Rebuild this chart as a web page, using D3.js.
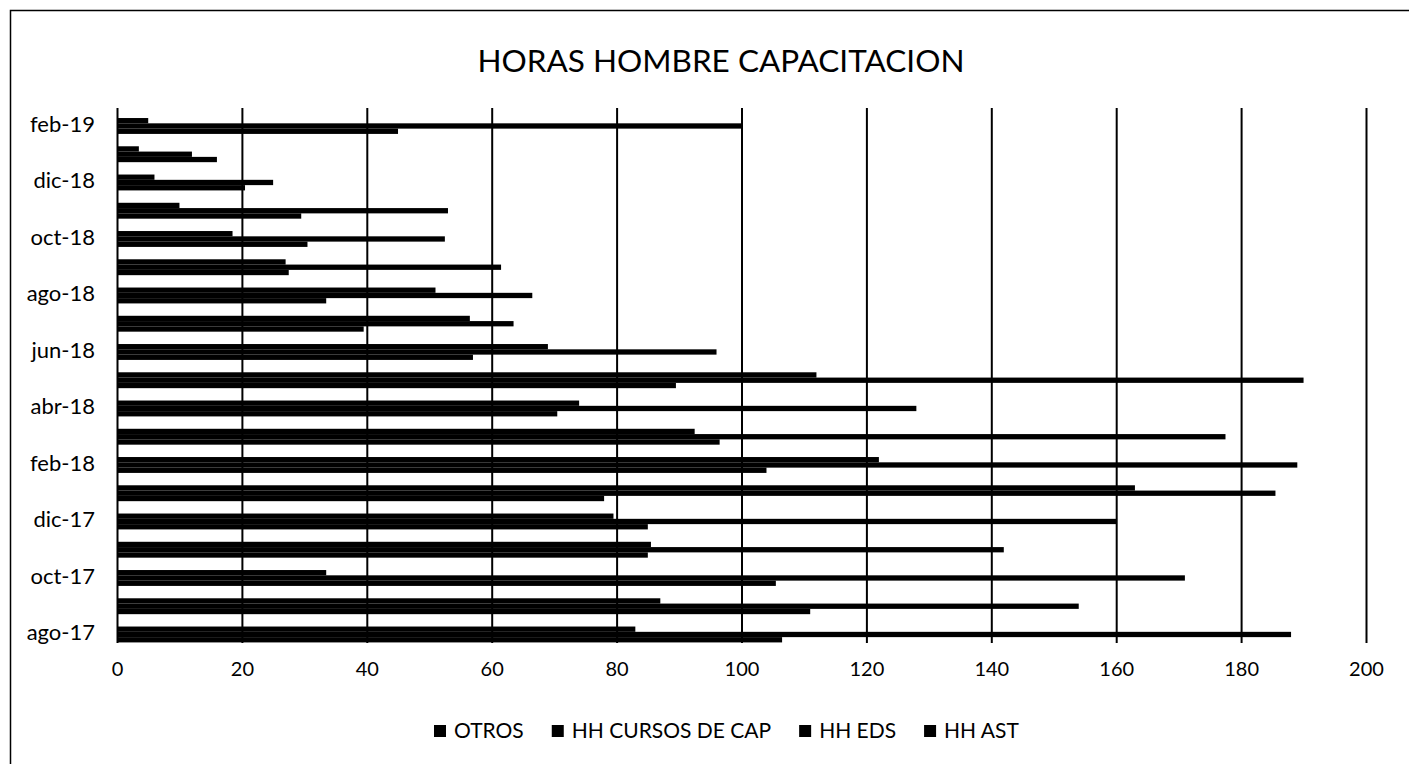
<!DOCTYPE html>
<html>
<head>
<meta charset="utf-8">
<script src="https://cdn.jsdelivr.net/npm/d3@7"></script>
<style>
    body { margin: 0; background: #fff; }
    #vis { width: 1409px; height: 764px; }
    text { font-family: Lato, "Open Sans", sans-serif; fill: #000; }
</style>
</head>
<body>
<div id="vis"></div>
<script>
// months, oldest first (drawn bottom to top like Excel)
var months = ['ago-17', 'sep-17', 'oct-17', 'nov-17', 'dic-17', 'ene-18', 'feb-18', 'mar-18', 'abr-18',
    'may-18', 'jun-18', 'jul-18', 'ago-18', 'sep-18', 'oct-18', 'nov-18', 'dic-18', 'ene-19', 'feb-19'];

var otros = [0, 0, 0, 0, 0, 0, 0, 0, 0, 0, 0, 0, 0, 0, 0, 0, 0, 0, 0];
var hh_cursos = [106.5, 111, 105.5, 85, 85, 78, 104, 96.5, 70.5, 89.5, 57, 39.5, 33.5, 27.5, 30.5, 29.5, 20.5, 16, 45];
var hh_eds = [188, 154, 171, 142, 160, 185.5, 189, 177.5, 128, 190, 96, 63.5, 66.5, 61.5, 52.5, 53, 25, 12, 100];
var hh_ast = [83, 87, 33.5, 85.5, 79.5, 163, 122, 92.5, 74, 112, 69, 56.5, 51, 27, 18.5, 10, 6, 3.5, 5];

var series_names = ['OTROS', 'HH CURSOS DE CAP', 'HH EDS', 'HH AST'];
var x_ticks = [0, 20, 40, 60, 80, 100, 120, 140, 160, 180, 200];

var series = [
    { name: 'OTROS', values: otros },
    { name: 'HH CURSOS DE CAP', values: hh_cursos },
    { name: 'HH EDS', values: hh_eds },
    { name: 'HH AST', values: hh_ast }
];

var width = 1409,
    height = 764;

var plot = { left: 117, right: 1366, top: 114.5, bottom: 651.25 };
var grid = { top: 108, bottom: 643 };

var svg = d3.select('#vis')
    .append('svg')
    .attr('width', width)
    .attr('height', height);

// frame of the scanned chart
svg.append('path')
    .attr('d', 'M10.5,764 L10.5,10.5 L1409,10.5')
    .attr('fill', 'none')
    .attr('stroke', '#000')
    .attr('stroke-width', 1.5);

svg.append('text')
    .attr('x', 721)
    .attr('y', 72)
    .attr('text-anchor', 'middle')
    .style('font-size', '31.5px')
    .text('HORAS HOMBRE CAPACITACION');

var x_scale = d3.scaleLinear()
    .domain([0, 200])
    .range([plot.left, plot.right]);

var y_scale = d3.scaleBand()
    .domain(months.slice().reverse())
    .range([plot.top, plot.bottom])
    .paddingInner(0.25)
    .paddingOuter(0.125);

// last series sits on top of each cluster
var y_inner = d3.scaleBand()
    .domain(series_names.slice().reverse())
    .range([0, y_scale.bandwidth()]);

var x_axis = d3.axisBottom(x_scale)
    .tickValues(x_ticks)
    .tickSize(-(grid.bottom - grid.top))
    .tickPadding(0);

var gx = svg.append('g')
    .attr('class', 'x axis')
    .attr('transform', 'translate(0,' + grid.bottom + ')')
    .call(x_axis);

gx.select('.domain').remove();
gx.selectAll('.tick line')
    .attr('stroke', '#000')
    .attr('stroke-width', 2);
gx.selectAll('.tick text')
    .attr('y', 33)
    .attr('dy', 0)
    .style('font-size', '20px');

var bars = [];
series.forEach(function(s) {
    s.values.forEach(function(v, i) {
        bars.push({ name: s.name, month: months[i], value: v });
    });
});

svg.append('g')
    .selectAll('rect')
    .data(bars)
    .enter()
    .append('rect')
    .attr('x', x_scale(0))
    .attr('y', function(d) {
        return y_scale(d.month) + y_inner(d.name);
    })
    .attr('width', function(d) {
        return x_scale(d.value) - x_scale(0);
    })
    .attr('height', y_inner.bandwidth())
    .attr('fill', '#000');

var y_axis = d3.axisLeft(y_scale)
    .tickValues(months.filter(function(d, i) { return i % 2 === 0; }))
    .tickSize(0)
    .tickPadding(22);

var gy = svg.append('g')
    .attr('class', 'y axis')
    .attr('transform', 'translate(' + plot.left + ',-4)')
    .call(y_axis);

gy.select('.domain').remove();
gy.selectAll('.tick text')
    .style('font-size', '22px');

// legend
var legend = svg.append('g')
    .attr('transform', 'translate(0,731)');

var lx = 434;
series_names.forEach(function(name) {
    legend.append('rect')
        .attr('x', lx)
        .attr('y', -6)
        .attr('width', 12)
        .attr('height', 12)
        .attr('fill', '#000');
    var t = legend.append('text')
        .attr('x', lx + 20)
        .attr('y', 7)
        .style('font-size', '21px')
        .text(name);
    lx += 20 + t.node().getComputedTextLength() + 28;
});
</script>
</body>
</html>
